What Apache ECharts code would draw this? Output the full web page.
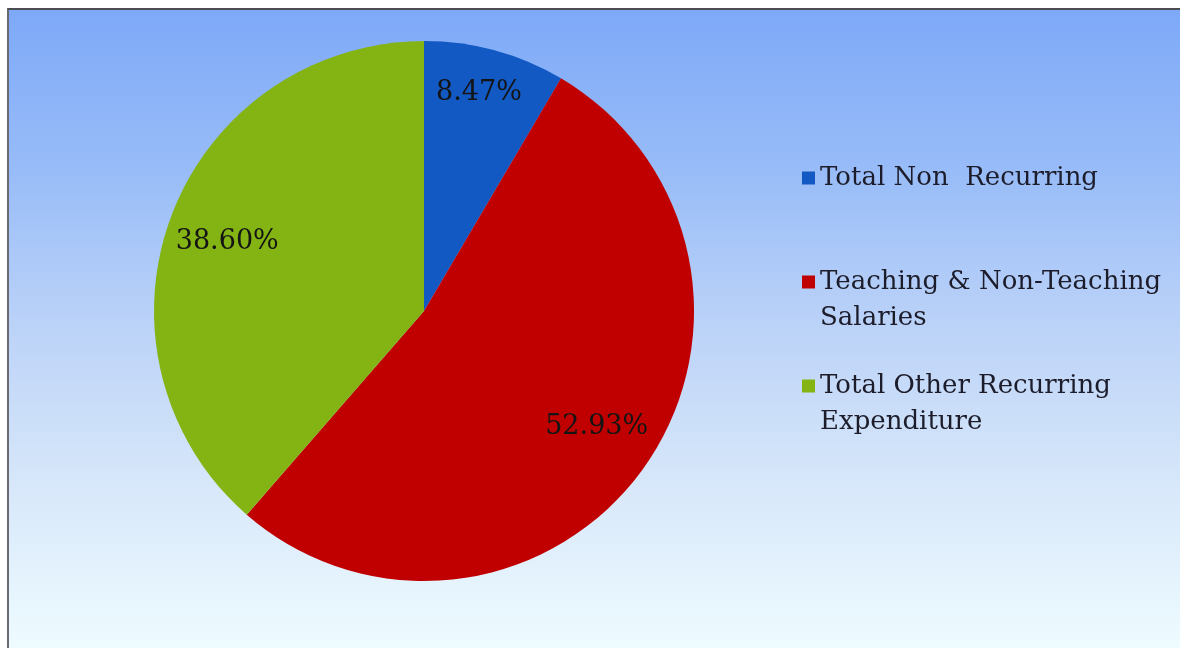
<!DOCTYPE html>
<html>
<head>
<meta charset="utf-8">
<script src="https://cdn.jsdelivr.net/npm/echarts@6/dist/echarts.min.js"></script>
<style>
    html, body { margin: 0; padding: 0; background: #fff; }
    #frame {
        position: absolute; left: 7px; top: 8px; width: 1173px; height: 640px;
        border-top: 2px solid #4c4c54; border-left: 2px solid #6a6a70;
        box-sizing: border-box;
    }
    #chart { width: 100%; height: 100%; }
</style>
</head>
<body>
<div id="frame"><div id="chart"></div></div>
<script>
const categories = ['Total Non  Recurring', 'Teaching & Non-Teaching Salaries', 'Total Other Recurring Expenditure'];
const legendNames = ['Total Non  Recurring', 'Teaching & Non-Teaching\nSalaries', 'Total Other Recurring\nExpenditure'];
const shares = [8.47, 52.93, 38.60];
const colors = ['#1259c3', '#c00000', '#84b414'];

const serif = '"DejaVu Serif", "Liberation Serif", serif';

let ec = echarts.init(document.getElementById('chart'));

let pieData = categories.map((name, i) => {
    return {name: name, value: shares[i], itemStyle: {color: colors[i]}};
});

// one legend per item; a leading blank line keeps the icon on the first text line
let legendTops = [150, 218, 322];
let legends = categories.map((name, i) => {
    let multi = legendNames[i].indexOf('\n') >= 0;
    return {
        orient: 'vertical',
        left: 793,
        top: legendTops[i],
        padding: 0,
        itemWidth: 13,
        itemHeight: 13,
        icon: 'rect',
        selectedMode: false,
        data: [name],
        formatter: () => (multi ? '\n' : '') + legendNames[i],
        textStyle: {
            fontFamily: serif,
            fontSize: 26,
            lineHeight: 36,
            color: '#1c1c2a'
        }
    };
});

// small nudges so the labels sit where the original put them
let nudge = [[-2, -9], [-3, -11], [6, 7]];

var option = {
    backgroundColor: {
        type: 'linear', x: 0, y: 0, x2: 0, y2: 1,
        colorStops: [
            {offset: 0, color: '#7ea9f8'},
            {offset: 0.25, color: '#98bcf8'},
            {offset: 0.5, color: '#bcd3f8'},
            {offset: 0.75, color: '#d8e8fa'},
            {offset: 1, color: '#eefbff'}
        ]
    },
    animation: false,
    legend: legends,
    series: [{
        name: 'share',
        type: 'pie',
        center: [415, 301],
        radius: [0, 270],
        startAngle: 90,
        clockwise: true,
        silent: true,
        avoidLabelOverlap: false,
        itemStyle: {borderWidth: 0},
        label: {show: false},
        labelLine: {show: false},
        data: pieData
    }, {
        // transparent ring only to place the percentage labels further out
        name: 'labels',
        type: 'pie',
        center: [415, 301],
        radius: [157, 270],
        startAngle: 90,
        clockwise: true,
        silent: true,
        avoidLabelOverlap: false,
        itemStyle: {color: 'rgba(0,0,0,0)', borderWidth: 0},
        label: {
            show: true,
            position: 'inside',
            formatter: (p) => p.value.toFixed(2) + '%',
            fontFamily: serif,
            fontSize: 27,
            color: '#141414'
        },
        labelLayout: (p) => ({dx: nudge[p.dataIndex][0], dy: nudge[p.dataIndex][1]}),
        labelLine: {show: false},
        legendHoverLink: false,
        data: shares.map((v, i) => ({name: categories[i] + ' ', value: v}))
    }]
};

ec.setOption(option);
</script>
</body>
</html>
